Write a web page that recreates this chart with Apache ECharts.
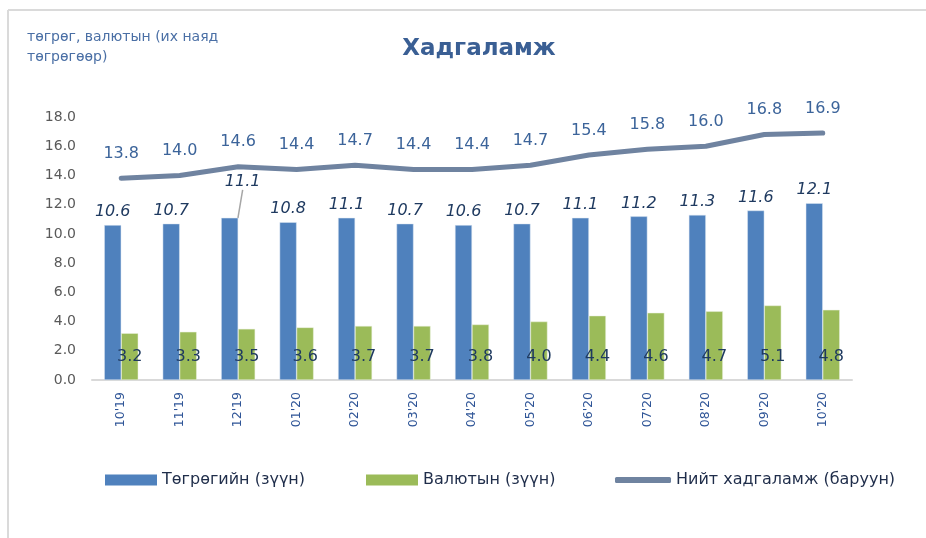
<!DOCTYPE html>
<html>
<head>
<meta charset="utf-8">
<script src="https://cdn.jsdelivr.net/npm/echarts@6/dist/echarts.min.js"></script>
<style>
  html, body { margin: 0; padding: 0; background: #fff; }
  #main { width: 926px; height: 538px; }
</style>
</head>
<body>
<div id="main"></div>
<script>
var months = ["10'19", "11'19", "12'19", "01'20", "02'20", "03'20", "04'20", "05'20", "06'20", "07'20", "08'20", "09'20", "10'20"];
var tugrug = [10.6, 10.7, 11.1, 10.8, 11.1, 10.7, 10.6, 10.7, 11.1, 11.2, 11.3, 11.6, 12.1];
var valyut = [3.2, 3.3, 3.5, 3.6, 3.7, 3.7, 3.8, 4.0, 4.4, 4.6, 4.7, 5.1, 4.8];
var niit = [13.8, 14.0, 14.6, 14.4, 14.7, 14.4, 14.4, 14.7, 15.4, 15.8, 16.0, 16.8, 16.9];
var names = ['Төгрөгийн (зүүн)', 'Валютын (зүүн)', 'Нийт хадгаламж (баруун)'];

var font = 'DejaVu Sans';
var chart = echarts.init(document.getElementById('main'));

// 12'19 label is pushed up with a leader line, like in the original
var tugData = tugrug.map(function (v, i) {
  if (i === 2) {
    return { value: v, labelLine: { show: true } };
  }
  return v;
});

function fmt(p) { return p.value.toFixed(1); }

var legendText = { fontFamily: font, fontSize: 16, color: '#1F2D4A' };
var noBorder = { borderWidth: 0 };

var option = {
  backgroundColor: '#fff',
  color: ['#4F81BD', '#9BBB59', '#6F83A0'],
  title: {
    text: 'Хадгаламж',
    left: 474,
    top: 33,
    textAlign: 'center',
    textStyle: { fontFamily: font, fontSize: 23, fontWeight: 'bold', color: '#3A5F94' }
  },
  graphic: [
    { type: 'line', shape: { x1: 8, y1: 10, x2: 926, y2: 10 }, style: { stroke: '#DADADA', lineWidth: 2 } },
    { type: 'line', shape: { x1: 8, y1: 10, x2: 8, y2: 538 }, style: { stroke: '#DADADA', lineWidth: 2 } },
    {
      type: 'text', left: 27, top: 27,
      style: {
        text: 'төгрөг, валютын (их наяд\nтөгрөгөөр)',
        fontFamily: font, fontSize: 14, lineHeight: 20, fill: '#4A6FA5'
      }
    }
  ],
  legend: [
    { data: [{ name: names[0], icon: 'rect' }], left: 100, top: 467, itemWidth: 52, itemHeight: 11, itemGap: 5, itemStyle: noBorder, textStyle: legendText, selectedMode: false },
    { data: [{ name: names[1], icon: 'rect' }], left: 361, top: 467, itemWidth: 52, itemHeight: 11, itemStyle: noBorder, textStyle: legendText, selectedMode: false },
    { data: [{ name: names[2], icon: 'roundRect' }], left: 610, top: 467, itemWidth: 56, itemHeight: 6, itemStyle: noBorder, textStyle: legendText, selectedMode: false }
  ],
  grid: { left: 92, right: 74, top: 117, bottom: 158 },
  xAxis: {
    type: 'category',
    data: months,
    axisLine: { lineStyle: { color: '#D9D9D9', width: 2 } },
    axisTick: { show: false },
    axisLabel: { rotate: 90, margin: 12, fontFamily: font, fontSize: 12.5, color: '#2F5597' }
  },
  yAxis: {
    type: 'value',
    min: 0,
    max: 18,
    interval: 2,
    splitLine: { show: false },
    axisLine: { show: false },
    axisTick: { show: false },
    axisLabel: {
      margin: 16, fontFamily: font, fontSize: 14, color: '#595959',
      formatter: function (v) { return v.toFixed(1); }
    }
  },
  series: [
    {
      name: names[0],
      type: 'bar',
      data: tugData,
      barWidth: 17,
      barGap: '0%',
      itemStyle: { color: '#4F81BD', borderColor: '#DCE6F2', borderWidth: 0.5 },
      label: {
        show: true, position: 'top', distance: 5, formatter: fmt,
        fontFamily: font, fontSize: 16, fontStyle: 'italic', color: '#1F3A60'
      },
      labelLine: { show: false, lineStyle: { color: '#A6A6A6', width: 1.5 } },
      labelLayout: function (p) {
        if (p.dataIndex === 2) {
          return { dx: 13, dy: -23 };
        }
        return {};
      }
    },
    {
      name: names[1],
      type: 'bar',
      data: valyut,
      barWidth: 17,
      barGap: '0%',
      itemStyle: { color: '#9BBB59', borderColor: '#EBF1DE', borderWidth: 0.5 },
      label: {
        show: true, position: 'insideBottom', distance: 15, formatter: fmt,
        fontFamily: font, fontSize: 16, color: '#1F3A60'
      }
    },
    {
      name: names[2],
      type: 'line',
      data: niit,
      symbol: 'circle',
      symbolSize: 1,
      showSymbol: true,
      lineStyle: { color: '#6F83A0', width: 5, cap: 'round', join: 'round' },
      itemStyle: { color: '#6F83A0' },
      label: {
        show: true, position: 'top', distance: 16, formatter: fmt,
        fontFamily: font, fontSize: 16, color: '#3C649A'
      },
      z: 5
    }
  ]
};

chart.setOption(option);
</script>
</body>
</html>
